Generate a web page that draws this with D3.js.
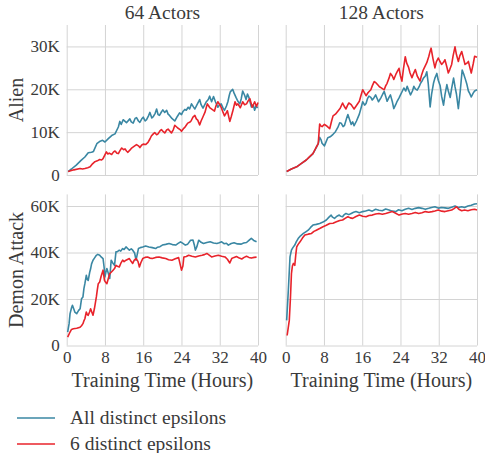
<!DOCTYPE html>
<html>
<head>
<meta charset="utf-8">
<script src="https://cdn.jsdelivr.net/npm/d3@7"></script>
<style>
  body { margin: 0; background: #fff; }
  svg text { font-family: "Liberation Serif", "DejaVu Serif", "Noto Serif", "FreeSerif", serif; fill: #3a3a3a; }
</style>
</head>
<body>
<div class="chart"></div>
<script>
(function(){

// data: [hours, score in K]
var columns = ["64 Actors", "128 Actors"];
var rows = ["Alien", "Demon Attack"];
var seriesNames = ["All distinct epsilons", "6 distinct epsilons"];
var xTicks = [0, 8, 16, 24, 32, 40];
var alienTicks = [0, 10, 20, 30];
var demonTicks = [0, 20, 40, 60];

var alien64All = [[0.3,0.8],[1,1.4],[2,2.3],[3,3.4],[3.8,4.2],[4.5,5.2],[5.2,5.3],[5.6,5.5],[6.3,7.3],[7,7.9],[7.5,8.1],[8,7.7],[8.7,8.5],[9.4,9.2],[10.1,9.6],[10.8,11.2],[11.1,12.5],[11.4,11.8],[11.8,12.9],[12.5,12.2],[13.2,13.1],[13.5,12.4],[13.9,12.1],[14.3,13.2],[14.6,13.4],[15,12.6],[15.3,12.3],[15.7,13.1],[16,13.5],[16.4,12.6],[16.7,12.9],[17.1,13.8],[17.4,14.6],[17.8,13.3],[18.1,13.6],[18.5,14.4],[18.8,15.4],[19.1,14.1],[19.4,13.9],[19.8,14.7],[20.1,15.2],[20.5,14.6],[20.9,15.1],[21.2,14.2],[21.5,13.9],[22,13.2],[22.6,12.6],[23.1,13.6],[23.6,14.5],[24,14.1],[24.3,14.8],[24.7,15.3],[25,15.1],[25.4,15.8],[25.7,15.4],[26.1,16.6],[26.5,15.9],[26.8,15.4],[27.2,16.3],[27.8,17.6],[28.1,16.4],[28.5,15.6],[28.9,16.5],[29.2,17.1],[29.6,17.6],[29.9,18.4],[30.3,17.1],[30.7,18.3],[31.1,17.1],[31.6,15.8],[31.9,16.3],[32.3,16.6],[32.7,15.6],[33,15.1],[33.4,16.1],[33.7,17.1],[34,18.6],[34.2,19.4],[34.7,20],[35,19.1],[35.4,18.1],[35.8,17.2],[36.2,16.6],[36.5,17.8],[36.8,19.6],[37.2,18.6],[37.5,17.6],[37.8,18.9],[38.1,18.1],[38.6,15.9],[39,16.4],[39.3,15.1],[39.6,16.2],[39.9,15.6]];
var alien64Six = [[0.3,0.8],[1.5,1.2],[2.8,1.5],[3.3,1.4],[3.8,1.5],[4.4,1.7],[4.9,1.9],[5.4,2.6],[5.9,3.1],[6.4,3.3],[6.9,3.6],[7.3,3.5],[7.6,3.8],[8.3,5.4],[8.6,4.9],[8.9,5.1],[9.4,4.8],[9.8,5.4],[10.1,5.6],[10.5,5.1],[10.8,5],[11.2,5.8],[11.5,6.3],[11.9,5.9],[12.2,6.1],[12.5,5.6],[12.8,5.3],[13.2,5.8],[13.5,6.2],[14,6.6],[14.6,7.1],[15,6.8],[15.3,6.4],[15.7,7],[16,7.2],[16.5,7.1],[17,7.6],[17.4,8.4],[17.7,9.1],[18.1,9.6],[18.4,9.9],[18.8,9.4],[19.1,9.6],[19.5,10.3],[19.8,10.6],[20.2,10.1],[20.5,9.8],[20.9,10.5],[21.2,10.7],[21.6,10.2],[21.9,9.8],[22.3,10.6],[22.6,11.6],[23,11.2],[23.3,10.9],[23.7,10.6],[24,10.2],[24.4,10.8],[24.7,11.1],[25,11.6],[25.3,12.1],[25.7,12.3],[26,12.6],[26.4,13.5],[26.8,13.9],[27.1,13.1],[27.4,12.8],[27.8,11.7],[28.1,12.6],[28.5,13.6],[28.9,14.6],[29.2,15.8],[29.4,16.6],[29.7,16.1],[29.9,15.7],[30.4,15.3],[30.9,14.9],[31.2,16.1],[31.6,17.1],[32,16.4],[32.3,15.8],[32.7,14.6],[33,13.8],[33.3,14.4],[33.6,15],[34.1,12.5],[34.4,13.6],[34.7,14.8],[35.2,17.1],[35.5,16.3],[35.8,16.6],[36.3,15.7],[36.8,17.1],[37.2,16.4],[37.6,16.6],[38,17.4],[38.3,17.8],[38.6,16.6],[38.8,15.8],[39.3,17.1],[39.7,16],[40,16.9]];
var alien128All = [[0.2,0.8],[1.2,1.4],[2.3,1.9],[3.3,2.7],[4.3,3.5],[5,4.2],[5.7,5],[6.3,6.2],[6.8,7.3],[7.1,8.8],[7.4,8.2],[7.6,7.4],[8.1,6.8],[8.5,7.9],[8.8,8.7],[9.3,8.9],[9.9,9.5],[10.4,10.1],[10.9,11.1],[11.3,12.2],[11.6,12.1],[12,11.3],[12.3,11.6],[12.7,13.1],[13,14.1],[13.4,12.8],[13.7,11.8],[14,12.4],[14.3,11.5],[14.8,12.6],[15.4,14.2],[15.8,15.8],[16.1,17.1],[16.5,16.3],[16.8,16.7],[17.1,17.8],[17.4,18.4],[17.8,18.1],[18.1,17.5],[18.5,18.1],[18.8,18.7],[19.1,17.9],[19.4,17.1],[19.9,18],[20.3,18.9],[20.6,19.5],[20.9,18.4],[21.2,17.2],[21.6,18.1],[21.9,18.7],[22.3,17.1],[22.6,15.5],[23,16.4],[23.3,17.2],[23.7,18],[24,18.7],[24.4,19.6],[24.7,20.3],[25.1,19.6],[25.4,20.7],[25.7,19.8],[26.1,18.7],[26.5,19.6],[26.8,20.7],[27.1,20.1],[27.5,19.8],[27.9,20.6],[28.2,21.4],[28.5,21.9],[28.8,22.6],[29.2,23.1],[29.5,24.1],[29.8,21.4],[30.2,15.9],[30.5,18.8],[30.9,21.4],[31.2,22.6],[31.6,23.7],[31.9,22.1],[32.3,20.8],[32.6,18.4],[33,16.3],[33.3,18.7],[33.7,21.1],[34,19.6],[34.4,18.1],[34.7,20.2],[35.1,22.6],[35.4,20.6],[35.7,18.9],[36.1,15.5],[36.5,19.6],[36.9,24.5],[37.2,23.6],[37.5,22.6],[37.9,21.1],[38.2,19.6],[38.5,19],[38.8,18.2],[39.2,19.1],[39.5,19.6],[40,19.9]];
var alien128Six = [[0.2,0.8],[1.2,1.4],[2.3,1.9],[3.3,2.7],[4.3,3.5],[5,4.3],[5.7,5],[6.3,6.3],[6.8,7.3],[7.1,11.9],[7.4,11.4],[7.6,11.3],[8.1,11.8],[8.5,11.5],[8.9,11.1],[9.2,10.8],[9.6,12.6],[9.9,13.8],[10.4,14.2],[10.9,14.9],[11.4,15.6],[11.9,16.8],[12.2,16.1],[12.6,15.4],[12.9,16.2],[13.2,16.8],[13.7,16.4],[14,15.9],[14.3,15.4],[14.8,16.2],[15.4,17.2],[15.8,18.8],[16.1,19.9],[16.5,19.1],[16.8,18.5],[17.2,19.2],[17.8,19.9],[18.1,20.8],[18.5,21.8],[18.8,21.6],[19.2,21.1],[19.6,20.6],[19.9,20.4],[20.3,20.1],[20.6,19.9],[20.9,20.8],[21.2,21.4],[21.6,22.6],[21.9,23.7],[22.3,23.1],[22.6,22.3],[23,23.4],[23.4,24.3],[23.7,24.9],[24,23.1],[24.3,21.9],[24.6,24.6],[25,27.6],[25.3,26.1],[25.7,25.1],[26,23.8],[26.4,22.7],[26.7,23.6],[27.1,24.6],[27.5,23.1],[28.1,21.9],[28.4,23.3],[28.8,24.6],[29.1,25.3],[29.5,26.2],[29.9,27.6],[30.2,28.9],[30.4,29.6],[30.8,27.1],[31.2,25],[31.5,26.4],[31.9,27.3],[32.2,26.6],[32.6,25.8],[33,26.3],[33.3,26.9],[33.7,25.2],[34,23.8],[34.3,24.6],[34.7,25.8],[35,27.8],[35.4,29.9],[35.7,28.1],[36.1,26.5],[36.4,27.8],[36.8,28.8],[37.2,27.1],[37.5,25.8],[37.9,26.1],[38.2,26.5],[38.5,25.1],[38.8,23.8],[39.2,25.9],[39.5,27.7],[40,27.5]];
var demon64All = [[0.2,5.8],[0.5,9.4],[0.7,13.7],[1,16.1],[1.2,17.3],[1.5,15.6],[1.7,14.4],[2.1,13.7],[2.5,15.1],[2.8,15.8],[3.1,20.1],[3.4,20.9],[3.6,24.5],[3.8,26.6],[4.1,30.2],[4.3,28.4],[4.5,28],[4.8,31.4],[5,33],[5.2,35.1],[5.5,36.7],[5.8,37.6],[6.2,38.8],[6.5,39.2],[6.9,38.8],[7.2,38.1],[7.6,37.4],[7.8,34.1],[8,29.5],[8.2,31.6],[8.4,33.1],[8.7,31.1],[9,28.8],[9.3,36.7],[9.6,35.6],[10,34.5],[10.3,40.3],[10.6,40.4],[11,41],[11.3,40.6],[11.7,41.7],[12,41.3],[12.4,42.4],[12.8,41.6],[13.1,41],[13.5,41.6],[13.8,41],[14.2,39.8],[14.5,36.7],[15,41.7],[15.4,42.1],[15.9,42.4],[16.5,42.8],[17.2,42.4],[17.9,42.1],[18.6,41.7],[19,42.3],[19.5,42.5],[20,43.2],[20.7,43.5],[21.4,43.9],[22.1,43.4],[22.8,43.2],[23.3,43.9],[23.8,44.6],[24.3,43.9],[24.8,43.2],[25.3,43.6],[25.9,45.3],[26.4,45.4],[26.7,43.1],[26.9,41],[27.2,42.4],[27.6,45.3],[28.1,44.4],[28.6,43.9],[29.3,44.3],[30,44.6],[30.7,44.1],[31.4,43.9],[31.9,44.2],[32.4,44.6],[32.9,43.8],[33.4,44],[33.8,43.2],[34.4,43.9],[35,44.2],[35.7,43.7],[36.5,43.6],[37,44.1],[37.6,44.3],[38.1,45.2],[38.6,46.1],[39.1,45.2],[39.7,44.6]];
var demon64Six = [[0.2,3.6],[0.7,5.8],[1,6.9],[1.4,7.2],[2.1,7.4],[2.8,7.9],[3.1,8.5],[3.4,9.4],[3.6,10.6],[3.8,11.5],[4.1,14.4],[4.3,13.3],[4.5,13],[4.8,14.5],[5,15.8],[5.3,14.1],[5.5,13],[5.8,15.9],[6.2,20.9],[6.4,23.9],[6.6,26.6],[6.9,27.3],[7.2,29.8],[7.6,32.4],[7.9,28],[8.1,27.3],[8.4,26.6],[8.7,28.8],[9,30.9],[9.3,31.5],[9.7,32.4],[10,33.1],[10.3,34.5],[10.6,34.1],[11,33.8],[11.3,35.3],[11.7,36.7],[12,36.1],[12.4,36.7],[12.8,37.1],[13.1,37.4],[13.5,36.1],[13.8,35.3],[14.1,36.6],[14.5,37.4],[14.9,36.2],[15.2,33.8],[15.5,35.6],[15.9,37.4],[16.4,37.9],[16.9,38.1],[17.4,37.6],[17.9,37.4],[18.6,37.9],[19.3,38.1],[20,37.7],[20.7,37.4],[21.3,36.9],[22,36.7],[22.7,37.3],[23.4,37.8],[23.7,35.1],[24,32.4],[24.3,34.2],[24.5,38.1],[25,38.3],[25.5,38.8],[26.2,38.4],[26.9,38.1],[27.6,38.5],[28.3,38.8],[28.8,39.1],[29.3,39.6],[29.8,38.9],[30.3,38.1],[31,38.5],[31.7,38.8],[32.4,38.4],[33.1,38.1],[33.6,37.1],[34.1,35.5],[34.5,37.4],[35,37.9],[35.5,38.3],[36.1,37.6],[36.6,37.2],[37.1,37.9],[37.6,38.4],[38.1,37.9],[38.6,37.6],[39.2,37.9],[39.7,38]];
var demon128All = [[0.2,10.8],[0.55,23.7],[0.9,38.1],[1.2,41],[1.5,42.1],[1.9,43.2],[2.2,44.6],[2.6,46],[3.1,47.2],[3.7,48.2],[4.2,48.9],[4.7,49.6],[5.2,50.8],[5.7,51.8],[6.4,52.1],[7.1,52.5],[7.8,53.1],[8.5,54],[9,55.1],[9.5,56.1],[9.8,55.2],[10.2,54.7],[10.7,55.6],[11.2,56.1],[11.5,55.6],[11.9,55.4],[12.2,56.2],[12.6,56.8],[13.2,56.3],[13.7,56.8],[14.2,57.3],[14.7,57.6],[15.4,57.1],[16.1,57.6],[16.7,57.9],[17.4,58.3],[18.1,57.8],[18.8,58.6],[19.5,58.2],[20.2,58],[20.9,58.7],[21.6,58.3],[22.3,57.8],[23,57.6],[23.6,58.4],[24.3,58],[25,58.6],[25.7,59],[26.4,58.5],[27.1,59],[27.8,59.3],[28.5,59],[29.2,58.6],[29.9,59],[30.5,59.4],[31.2,59.7],[31.9,59.1],[32.6,59.4],[33.3,59.2],[34,59],[34.7,59.5],[35.4,60],[36.1,59.4],[36.8,59.7],[37.4,59.4],[38.1,60],[38.8,60.3],[39.5,60.9],[40,61]];
var demon128Six = [[0.3,4.3],[0.75,10.8],[1,20.9],[1.2,30.9],[1.4,34.2],[1.6,35.3],[1.9,34.5],[2.1,38.9],[2.3,42.4],[2.6,43.5],[3,44.6],[3.5,46.2],[4,47.5],[4.7,47.9],[5.4,48.2],[5.9,49.1],[6.4,49.6],[7.1,50.3],[7.8,51.1],[8.5,51.7],[9.2,52.5],[9.9,52.6],[10.6,53.2],[11.3,53.8],[11.9,54],[12.5,54.8],[13,55.4],[13.5,54.9],[14,54.7],[14.7,55.5],[15.4,56.1],[16.1,55.6],[16.8,55.4],[17.4,55.9],[18.1,56.1],[18.8,56.6],[19.5,56.8],[20.2,56.5],[20.9,56.8],[21.6,57.2],[22.3,57.6],[23,56.9],[23.7,56.1],[24.4,56.6],[25,56.8],[25.7,56.5],[26.4,56.8],[27.1,57.2],[27.8,56.8],[28.5,57.1],[29.2,57.6],[29.9,57.3],[30.6,57.6],[31.2,57.9],[31.9,58.3],[32.6,57.8],[33.3,57.6],[34,58],[34.7,58.3],[35.2,58.9],[35.7,59.7],[36.2,58.6],[36.8,58],[37.4,58.3],[38.1,58],[38.8,58.4],[39.5,58.6],[40,58.3]];

var colors = ["#3a87a3", "#e8232b"];

var panels = [
    {row: 0, col: 0, ymax: 35, ticks: alienTicks, series: [alien64All, alien64Six]},
    {row: 0, col: 1, ymax: 35, ticks: alienTicks, series: [alien128All, alien128Six]},
    {row: 1, col: 0, ymax: 65, ticks: demonTicks, series: [demon64All, demon64Six]},
    {row: 1, col: 1, ymax: 65, ticks: demonTicks, series: [demon128All, demon128Six]}
];

var width = 485,
    height = 453;
var colX = [66.7, 285.7],
    panelW = 191.3;
var rowY = [25, 194.4],
    panelH = [150, 151.1];

var svg = d3.select(".chart")
    .append("svg")
    .attr("width", width)
    .attr("height", height);

panels.forEach(function(p){
    var g = svg.append("g")
        .attr("transform", "translate(" + colX[p.col] + "," + rowY[p.row] + ")");
    var h = panelH[p.row];

    var x = d3.scaleLinear().domain([0, 40]).range([0, panelW]);
    var y = d3.scaleLinear().domain([0, p.ymax]).range([h, 0]);

    // gridlines + ticks
    var yAxis = g.append("g")
        .call(d3.axisLeft(y).tickValues(p.ticks).tickSize(-panelW).tickPadding(7)
            .tickFormat(function(d){ return d === 0 ? "0" : d + "K"; }));
    var xAxis = g.append("g")
        .attr("transform", "translate(0," + h + ")")
        .call(d3.axisBottom(x).tickValues(xTicks).tickSize(-h).tickPadding(5));

    [yAxis, xAxis].forEach(function(a){
        a.select(".domain").remove();
        a.selectAll(".tick line").attr("stroke", "#d4d4d4").attr("stroke-width", 1);
        a.selectAll(".tick text")
            .attr("font-size", 17)
            .attr("fill", "#3a3a3a");
    });
    if (p.col === 1) yAxis.selectAll(".tick text").remove();
    if (p.row === 0) xAxis.selectAll(".tick text").remove();

    var line = d3.line()
        .x(function(d){ return x(d[0]); })
        .y(function(d){ return y(d[1]); });

    p.series.forEach(function(s, i){
        g.append("path")
            .datum(s)
            .attr("fill", "none")
            .attr("stroke", colors[i])
            .attr("stroke-width", 1.6)
            .attr("stroke-linejoin", "round")
            .attr("d", line);
    });

    if (p.row === 0) {
        g.append("text")
            .attr("x", panelW / 2)
            .attr("y", -6)
            .attr("text-anchor", "middle")
            .attr("font-size", 19.5)
            .text(columns[p.col]);
    }
    if (p.row === 1) {
        g.append("text")
            .attr("x", panelW / 2)
            .attr("y", h + 42)
            .attr("text-anchor", "middle")
            .attr("font-size", 20)
            .text("Training Time (Hours)");
    }
    if (p.col === 0) {
        g.append("text")
            .attr("transform", "translate(-44," + (h / 2) + ") rotate(-90)")
            .attr("text-anchor", "middle")
            .attr("font-size", 20)
            .text(rows[p.row]);
    }
});

// legend
var legend = svg.append("g").attr("transform", "translate(17,418)");
seriesNames.forEach(function(name, i){
    var row = legend.append("g").attr("transform", "translate(0," + (i * 26) + ")");
    row.append("line")
        .attr("x1", 0).attr("x2", 38)
        .attr("stroke", colors[i])
        .attr("stroke-width", 1.6);
    row.append("text")
        .attr("x", 53)
        .attr("y", 6)
        .attr("font-size", 19.5)
        .text(name);
});

})();
</script>
</body>
</html>
